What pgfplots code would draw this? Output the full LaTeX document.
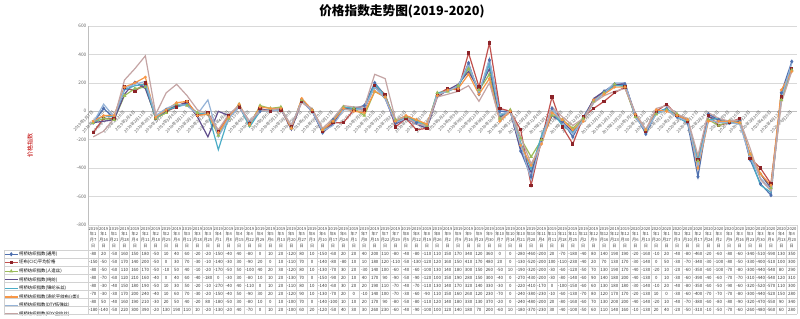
\documentclass[border=0pt]{standalone}
\usepackage{pgfplots}
\pgfplotsset{compat=1.18}
\usepackage{pgfplotstable}
\usepackage{fontspec}
\setmainfont{Noto Sans CJK SC}

\definecolor{c1}{RGB}{79,112,175}
\definecolor{c2}{RGB}{192,80,77}
\definecolor{c2d}{RGB}{140,35,40}
\definecolor{c3}{RGB}{155,187,89}
\definecolor{c4}{RGB}{96,78,140}
\definecolor{c5}{RGB}{75,172,198}
\definecolor{c6}{RGB}{247,150,70}
\definecolor{c7}{RGB}{149,179,215}
\definecolor{c8}{RGB}{196,164,164}

\pgfplotstableread{
i lab y m d s1 s2 s3 s4 s5 s6 s7 s8
0 2019年1月7日 2019 1 7 -80 -150 -80 -80 -80 -70 -80 -180
1 2019年1月14日 2019 1 14 20 -50 -50 -70 -30 -30 50 -140
2 2019年1月21日 2019 1 21 -50 -50 -60 -60 -40 -30 -40 -50
3 2019年1月28日 2019 1 28 160 170 110 120 150 170 160 220
4 2019年2月4日 2019 2 4 150 140 160 210 180 200 190 300
5 2019年2月11日 2019 2 11 180 200 170 160 190 240 210 390
6 2019年2月18日 2019 2 18 -50 -50 -50 -40 -50 -40 -30 -20
7 2019年2月25日 2019 2 25 10 0 -10 0 10 10 20 130
8 2019年3月4日 2019 3 4 40 30 50 40 30 60 50 190
9 2019年3月11日 2019 3 11 60 70 40 60 50 70 40 110
10 2019年3月18日 2019 3 18 -20 -30 -10 -40 -20 -30 -20 10
11 2019年3月25日 2019 3 25 -20 -10 -20 -180 -10 -20 80 -20
12 2019年4月1日 2019 4 1 -150 -140 -170 0 -270 -150 -180 -130
13 2019年4月8日 2019 4 8 -40 -30 -50 -30 -40 -40 -50 -20
14 2019年4月15日 2019 4 15 40 30 50 30 40 50 30 40
15 2019年4月22日 2019 4 22 -80 -90 -100 -80 -110 -90 -80 -70
16 2019年4月29日 2019 4 29 0 20 40 10 0 30 10 0
17 2019年5月6日 2019 5 6 10 0 20 10 10 20 0 10
18 2019年5月13日 2019 5 13 20 10 30 20 20 20 10 20
19 2019年5月20日 2019 5 20 -120 -110 -120 -130 -110 -120 -100 -100
20 2019年5月27日 2019 5 27 80 70 80 70 80 90 70 60
21 2019年6月3日 2019 6 3 10 0 10 0 10 10 0 20
22 2019年6月10日 2019 6 10 -150 -140 -130 -150 -140 -130 -140 -120
23 2019年6月17日 2019 6 17 -60 -80 -70 -90 -60 -70 -100 -50
24 2019年6月24日 2019 6 24 20 -80 30 20 30 20 10 40
25 2019年7月1日 2019 7 1 20 10 20 10 20 0 10 30
26 2019年7月8日 2019 7 8 40 10 -30 40 20 -10 20 30
27 2019年7月15日 2019 7 15 200 180 140 170 190 140 170 260
28 2019年7月22日 2019 7 22 110 120 100 90 110 100 90 230
29 2019年7月29日 2019 7 29 -80 -110 -60 -90 -70 -70 -80 -60
30 2019年8月5日 2019 8 5 -40 -50 -40 -50 -40 -30 -50 -40
31 2019年8月12日 2019 8 12 -80 -130 -60 -90 -70 -60 -80 -90
32 2019年8月19日 2019 8 19 -110 -120 -100 -120 -110 -90 -110 -100
33 2019年8月26日 2019 8 26 110 120 130 100 130 110 120 100
34 2019年9月2日 2019 9 2 150 160 140 150 140 150 140 120
35 2019年9月9日 2019 9 9 170 150 180 190 170 160 180 140
36 2019年9月16日 2019 9 16 340 410 300 280 320 260 330 180
37 2019年9月23日 2019 9 23 120 170 150 150 140 120 130 70
38 2019年9月30日 2019 9 30 360 480 260 300 330 230 370 200
39 2019年10月7日 2019 10 7 0 20 -50 -40 -30 -70 -20 -60
40 2019年10月14日 2019 10 14 0 0 10 0 0 0 0 10
41 2019年10月21日 2019 10 21 -280 -130 -190 -270 -220 -240 -240 -180
42 2019年10月28日 2019 10 28 -460 -520 -320 -430 -410 -380 -480 -370
43 2019年11月4日 2019 11 4 -200 -200 -200 -200 -170 -230 -200 -230
44 2019年11月11日 2019 11 11 20 100 -30 -30 0 -10 20 30
45 2019年11月18日 2019 11 18 -70 -110 -60 -80 -100 -60 -80 -40
46 2019年11月25日 2019 11 25 -180 -230 -120 -140 -150 -130 -160 -100
47 2019年12月2日 2019 12 2 -40 -40 -50 -60 -60 -70 -60 -50
48 2019年12月9日 2019 12 9 80 20 70 90 60 80 70 60
49 2019年12月16日 2019 12 16 140 70 130 140 130 120 130 110
50 2019年12月23日 2019 12 23 190 130 190 180 180 170 200 140
51 2019年12月30日 2019 12 30 190 170 170 200 180 170 200 160
52 2020年1月6日 2020 1 6 -20 -30 -40 -40 -30 -20 -40 -10
53 2020年1月13日 2020 1 13 -160 -140 -130 -130 -140 -130 -140 -130
54 2020年1月20日 2020 1 20 -10 0 -20 0 -10 10 -20 20
55 2020年1月27日 2020 1 27 20 50 10 10 20 0 10 40
56 2020年2月3日 2020 2 3 -40 -30 -20 -30 -40 -30 -40 -20
57 2020年2月10日 2020 2 10 -80 -70 -60 -60 -80 -60 -70 -50
58 2020年2月17日 2020 2 17 -460 -340 -350 -390 -350 -400 -380 -310
59 2020年2月24日 2020 2 24 -20 -30 -60 -40 -60 -70 -60 -10
60 2020年3月2日 2020 3 2 -60 -100 -100 -60 -50 -70 -80 -50
61 2020年3月9日 2020 3 9 -80 -80 -70 -70 -90 -70 -80 -70
62 2020年3月16日 2020 3 16 -60 -50 -80 -70 -60 -80 -90 -60
63 2020年3月23日 2020 3 23 -340 -330 -300 -310 -320 -300 -320 -260
64 2020年3月30日 2020 3 30 -510 -400 -440 -440 -520 -440 -470 -480
65 2020年4月6日 2020 4 6 -590 -510 -540 -540 -570 -520 -550 -560
66 2020年4月13日 2020 4 13 130 100 80 120 110 150 90 60
67 2020年4月20日 2020 4 20 350 300 290 310 300 280 340 280
}\data

\begin{document}
\begin{tikzpicture}[x=0.75pt,y=0.75pt]
\useasboundingbox (-88,-93) rectangle (712,225);
\begin{axis}[
  at={(0,0)}, anchor=south west,
  scale only axis, width=531.75pt, height=149.25pt,
  xmin=-0.5, xmax=67.5, ymin=-800, ymax=600,
  axis x line*=middle, axis y line*=left,
  axis line style={draw=gray!50, line width=0.4pt},
  ytick={-800,-600,...,600},
  ymajorgrids, major grid style={draw=gray!30, line width=0.5pt},
  xtick={0,...,67},
  xticklabels from table={\data}{lab},
  x tick label style={rotate=45, anchor=east, font=\fontsize{3.1}{3.4}\selectfont, text=black!65, inner sep=0.4pt},
  y tick label style={font=\fontsize{3.6}{4}\selectfont, text=black!60, inner sep=1pt},
  /pgf/number format/assume math mode=true,
  major tick length=0pt,
  every axis plot/.append style={line width=0.9pt},
  legend cell align=left,
  legend style={at={(axis description cs:-0.1185,-0.1256)}, anchor=north west,
    draw=none, fill=none, inner sep=0pt, outer sep=0pt, row sep=0pt,
    font=\fontsize{3.3}{4}\selectfont,
    nodes={inner sep=0.5pt, text height=3.6pt, text depth=1.8pt}},
  legend image code/.code={\draw[mark repeat=2,mark phase=2,#1] plot coordinates {(0pt,0pt) (5pt,0pt) (10pt,0pt)};},
]
\addplot[c1, mark=diamond*, mark size=0.9pt] table[x=i,y=s1] {\data};
\addlegendentry{柯桥纺织指数(通用)}
\addplot[c2, mark=square*, mark size=0.8pt, mark options={fill=c2d, draw=c2d}] table[x=i,y=s2] {\data};
\addlegendentry{坯布(CIC)平均价格}
\addplot[c3, mark=triangle*, mark size=0.8pt] table[x=i,y=s3] {\data};
\addlegendentry{柯桥纺织指数(人造丝)}
\addplot[c4] table[x=i,y=s4] {\data};
\addlegendentry{柯桥纺织指数(纯纺)}
\addplot[c5] table[x=i,y=s5] {\data};
\addlegendentry{柯桥纺织指数(锦纶长丝)}
\addplot[c6, mark=*, mark size=0.6pt] table[x=i,y=s6] {\data};
\addlegendentry{柯桥纺织指数(涤纶平纹布(r类))}
\addplot[c7] table[x=i,y=s7] {\data};
\addlegendentry{柯桥纺织指数(DTY低弹丝)}
\addplot[c8] table[x=i,y=s8] {\data};
\addlegendentry{柯桥纺织指数(FDY全拉丝)}
\end{axis}

% data table grid
\foreach \k in {0,...,68}{
  \draw[gray!35, line width=0.4pt] ({\k*10.4265},0) -- ({\k*10.4265},-89);
}
\foreach \k in {0,...,8}{
  \draw[gray!35, line width=0.4pt] (-84,{-25-8*\k}) -- (709,{-25-8*\k});
}
\draw[gray!35, line width=0.4pt] (-84,-25) -- (-84,-89);

% table text
\foreach \i in {0,...,67}{
  \pgfmathsetmacro\xc{(\i+0.5)*10.4265}
  \pgfplotstablegetelem{\i}{y}\of\data\let\yy\pgfplotsretval
  \pgfplotstablegetelem{\i}{m}\of\data\let\mm\pgfplotsretval
  \pgfplotstablegetelem{\i}{d}\of\data\let\dd\pgfplotsretval
  \node[font=\fontsize{3.1}{4.4}\selectfont, align=center, inner sep=0pt, text=black!75] at (\xc,-12.5) {\yy\\年\mm\\月\dd\\日};
  \foreach \kk in {1,...,8}{
    \pgfplotstablegetelem{\i}{s\kk}\of\data
    \node[font=\fontsize{3.3}{4}\selectfont, inner sep=0pt, text=black!80] at (\xc,{-21-8*\kk}) {\pgfplotsretval};
  }
}

% y label and title
\node[rotate=90, text=red!75!black, font=\fontsize{4.5}{5}\selectfont] at (-58,80) {价格指数};
\node[font=\bfseries\fontsize{9.5}{10}\selectfont] at (314,214) {价格指数走势图(2019-2020)};
\end{tikzpicture}
\end{document}
